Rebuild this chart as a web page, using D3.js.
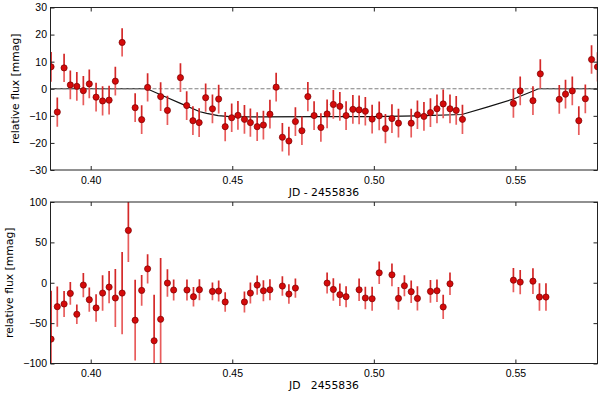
<!DOCTYPE html>
<html lang="en">
<head>
<meta charset="UTF-8">
<title>Transit light curve</title>
<script src="https://d3js.org/d3.v7.min.js"></script>
<style>
  body { margin: 0; background: #fff; }
  svg { display: block; font-family: "DejaVu Sans", sans-serif; }
  .tick text { font-size: 10.5px; fill: #000; }
  .tick line { stroke: #222; }
  .lbl { font-size: 10.8px; fill: #000; }
</style>
</head>
<body>
<svg id="chart" width="600" height="393"></svg>
<script>
// time (JD - 2455836), relative flux [mmag], error
const tTop = [0.3860, 0.3882, 0.3906, 0.3928, 0.3951, 0.3974, 0.3995, 0.4019, 0.4042, 0.4065,
  0.4087, 0.4111, 0.4157, 0.4180, 0.4201, 0.4247, 0.4271, 0.4317, 0.4339, 0.4361,
  0.4383, 0.4406, 0.4430, 0.4452, 0.4475, 0.4498, 0.4520, 0.4543, 0.4564, 0.4588,
  0.4610, 0.4633, 0.4655, 0.4677, 0.4700, 0.4723, 0.4746, 0.4767, 0.4789, 0.4813,
  0.4835, 0.4857, 0.4880, 0.4902, 0.4926, 0.4948, 0.4970, 0.4994, 0.5019, 0.5041,
  0.5064, 0.5087, 0.5132, 0.5154, 0.5177, 0.5200, 0.5223, 0.5245, 0.5269, 0.5291,
  0.5313, 0.5493, 0.5517, 0.5562, 0.5588, 0.5655, 0.5677, 0.5701, 0.5724, 0.5747,
  0.5769, 0.5790];
const fTop = [8.1, -8.6, 7.7, 1.4, 0.9, -0.7, 1.8, -3.1, -4.5, -4.2,
  2.8, 17.1, -7.0, -11.4, 0.5, -2.9, -8.0, 4.1, -6.2, -11.8,
  -12.5, -3.3, -7.4, -3.8, -14.0, -10.7, -9.8, -11.3, -12.5, -14.0,
  -13.4, -9.4, 0.6, -17.9, -19.3, -12.1, -15.5, -2.9, -9.9, -14.3,
  -9.3, -5.8, -6.5, -9.9, -7.6, -7.8, -8.3, -11.2, -10.0, -14.7,
  -11.0, -12.7, -12.7, -9.6, -10.2, -8.8, -7.4, -5.6, -7.4, -8.0,
  -11.3, -5.4, -0.8, -4.4, 5.5, -3.9, -2.0, -0.8, -11.8, -3.7,
  10.8, 8.1];
const eTop = [5.5, 5.4, 5.2, 5.3, 5.3, 5.4, 5.3, 5.3, 5.4, 5.3,
  5.3, 5.2, 5.3, 5.3, 5.2, 5.3, 5.4, 5.3, 5.3, 5.3,
  5.3, 5.2, 5.3, 5.3, 5.4, 5.3, 5.3, 5.3, 5.2, 5.3,
  5.3, 5.3, 5.3, 5.3, 5.3, 5.3, 5.3, 5.4, 5.3, 5.3,
  5.3, 5.3, 5.3, 5.3, 5.3, 5.3, 5.3, 5.3, 5.3, 5.4,
  5.3, 5.3, 5.3, 5.3, 5.3, 5.3, 5.3, 5.3, 5.3, 5.3,
  5.4, 5.3, 5.3, 5.3, 5.4, 5.3, 5.3, 5.3, 5.3, 5.3,
  5.3, 5.4];

const tBot = [0.3860, 0.3882, 0.3906, 0.3928, 0.3951, 0.3974, 0.3995, 0.4019, 0.4042, 0.4065,
  0.4087, 0.4111, 0.4133, 0.4157, 0.4180, 0.4201, 0.4224, 0.4247, 0.4271, 0.4293,
  0.4340, 0.4363, 0.4384, 0.4430, 0.4452, 0.4475, 0.4543, 0.4564, 0.4588, 0.4610,
  0.4633, 0.4677, 0.4700, 0.4723, 0.4835, 0.4857, 0.4880, 0.4902, 0.4948, 0.4970,
  0.4994, 0.5019, 0.5064, 0.5087, 0.5108, 0.5132, 0.5154, 0.5200, 0.5223, 0.5245,
  0.5269, 0.5493, 0.5517, 0.5562, 0.5585, 0.5608];
const fBot = [-69.8, -29.6, -26.3, -13.2, -39.0, -2.9, -21.0, -31.2, -12.8, -5.4,
  -18.9, -12.8, 64.8, -46.4, -9.5, 17.2, -71.8, -45.2, -0.4, -9.0,
  -9.0, -17.3, -8.6, -10.7, -10.3, -23.8, -23.8, -12.8, -2.9, -9.9,
  -8.7, -4.1, -14.0, -6.6, -0.4, -8.3, -14.8, -17.3, -8.7, -18.9,
  -19.8, 12.3, 9.8, -19.4, -3.7, -11.1, -19.4, -10.7, -9.9, -30.0,
  -1.3, 3.2, 0.8, 2.0, -17.7, -17.7];
const eBot = [60, 25, 16, 14, 12, 15, 15, 17, 22, 20,
  36, 51, 39, 50, 19, 18, 57, 76, 17, 13,
  13, 12, 13, 11, 13, 12, 13, 13, 12, 13,
  13, 12, 12, 12, 13, 14, 14, 13, 14, 14,
  15, 14, 14, 14, 13, 14, 15, 14, 14, 15,
  14, 15, 15, 16, 17, 17];

// transit model
const modelT = [0.3858, 0.4199, 0.4257, 0.4317, 0.4386, 0.4410, 0.4450, 0.4492, 0.4600,
  0.4800, 0.5000, 0.5150, 0.5311, 0.5400, 0.5493, 0.5582, 0.5790];
const modelF = [0, 0, -2.7, -5.4, -8.5, -9.1, -9.9, -10.3, -10.4,
  -10.3, -10.3, -10.0, -9.5, -6.8, -3.8, 0, 0];

const xTicks = [0.40, 0.45, 0.50, 0.55];
const yTicksTop = [-30, -20, -10, 0, 10, 20, 30];
const yTicksBot = [-100, -50, 0, 50, 100];

const svg = d3.select("#chart");
const left = 50.5, right = 597.5;
const x = d3.scaleLinear().domain([0.3858, 0.5790]).range([left, right]);

function panel(id, top, bottom, yDomain, yTicks, t, f, e, labelX, xLabel) {
  const y = d3.scaleLinear().domain(yDomain).range([bottom, top]);
  const g = svg.append("g");

  g.append("clipPath").attr("id", id)
    .append("rect").attr("x", left).attr("y", top)
    .attr("width", right - left).attr("height", bottom - top);

  const plot = g.append("g").attr("clip-path", `url(#${id})`);

  if (id === "clipTop") {
    const line = d3.line().x(d => x(d[0])).y(d => y(d[1]));
    plot.append("path")
      .datum(modelT.map((d, i) => [d, modelF[i]]))
      .attr("d", line).attr("fill", "none")
      .attr("stroke", "#111").attr("stroke-width", 1.2);
    plot.append("line")
      .attr("x1", left).attr("x2", right).attr("y1", y(0)).attr("y2", y(0))
      .attr("stroke", "#808080").attr("stroke-width", 1.2)
      .attr("stroke-dasharray", "4,2");
  }

  const pts = t.map((d, i) => ({ t: d, f: f[i], e: e[i] }));
  // lower half of the bar lighter, upper half darker
  plot.selectAll(".errLo").data(pts).enter().append("line")
    .attr("x1", d => x(d.t)).attr("x2", d => x(d.t))
    .attr("y1", d => y(d.f - d.e)).attr("y2", d => y(d.f))
    .attr("stroke", "#e85c5c").attr("stroke-width", 1.7);
  plot.selectAll(".errHi").data(pts).enter().append("line")
    .attr("x1", d => x(d.t)).attr("x2", d => x(d.t))
    .attr("y1", d => y(d.f)).attr("y2", d => y(d.f + d.e))
    .attr("stroke", "#d42828").attr("stroke-width", 1.7);
  plot.selectAll(".pt").data(pts).enter().append("circle")
    .attr("cx", d => x(d.t)).attr("cy", d => y(d.f)).attr("r", 3.1)
    .attr("fill", "#d40a0a").attr("stroke", "#7a0000").attr("stroke-width", 0.7);

  const fmtX = d3.format(".2f");
  g.append("g").attr("transform", `translate(0,${bottom})`)
    .call(d3.axisBottom(x).tickValues(xTicks).tickFormat(fmtX)
      .tickSizeInner(-4).tickSizeOuter(0).tickPadding(6.5))
    .call(a => a.select(".domain").remove());
  g.append("g").attr("transform", `translate(0,${top})`)
    .call(d3.axisTop(x).tickValues(xTicks).tickFormat("")
      .tickSizeInner(-4).tickSizeOuter(0))
    .call(a => a.select(".domain").remove());
  g.append("g").attr("transform", `translate(${left},0)`)
    .call(d3.axisLeft(y).tickValues(yTicks).tickFormat(d3.format("d"))
      .tickSizeInner(-4).tickSizeOuter(0).tickPadding(3.5))
    .call(a => a.select(".domain").remove());
  g.append("g").attr("transform", `translate(${right},0)`)
    .call(d3.axisRight(y).tickValues(yTicks).tickFormat("")
      .tickSizeInner(-4).tickSizeOuter(0))
    .call(a => a.select(".domain").remove());

  g.append("rect").attr("x", left).attr("y", top)
    .attr("width", right - left).attr("height", bottom - top)
    .attr("fill", "none").attr("stroke", "#222").attr("stroke-width", 1);

  g.append("text").attr("class", "lbl")
    .attr("transform", `translate(${labelX},${(top + bottom) / 2}) rotate(-90)`)
    .attr("text-anchor", "middle").attr("dy", "0.35em")
    .text("relative flux [mmag]");
  g.append("text").attr("class", "lbl")
    .attr("x", (left + right) / 2).attr("y", bottom + 22).attr("dy", "0.35em")
    .attr("text-anchor", "middle").style("white-space", "pre")
    .text(xLabel);
}

panel("clipTop", 7.5, 170, [-30, 30], yTicksTop, tTop, fTop, eTop, 15.5, "JD - 2455836");
panel("clipBot", 202, 363.5, [-100, 100], yTicksBot, tBot, fBot, eBot, 9, "JD   2455836");
</script>
</body>
</html>
